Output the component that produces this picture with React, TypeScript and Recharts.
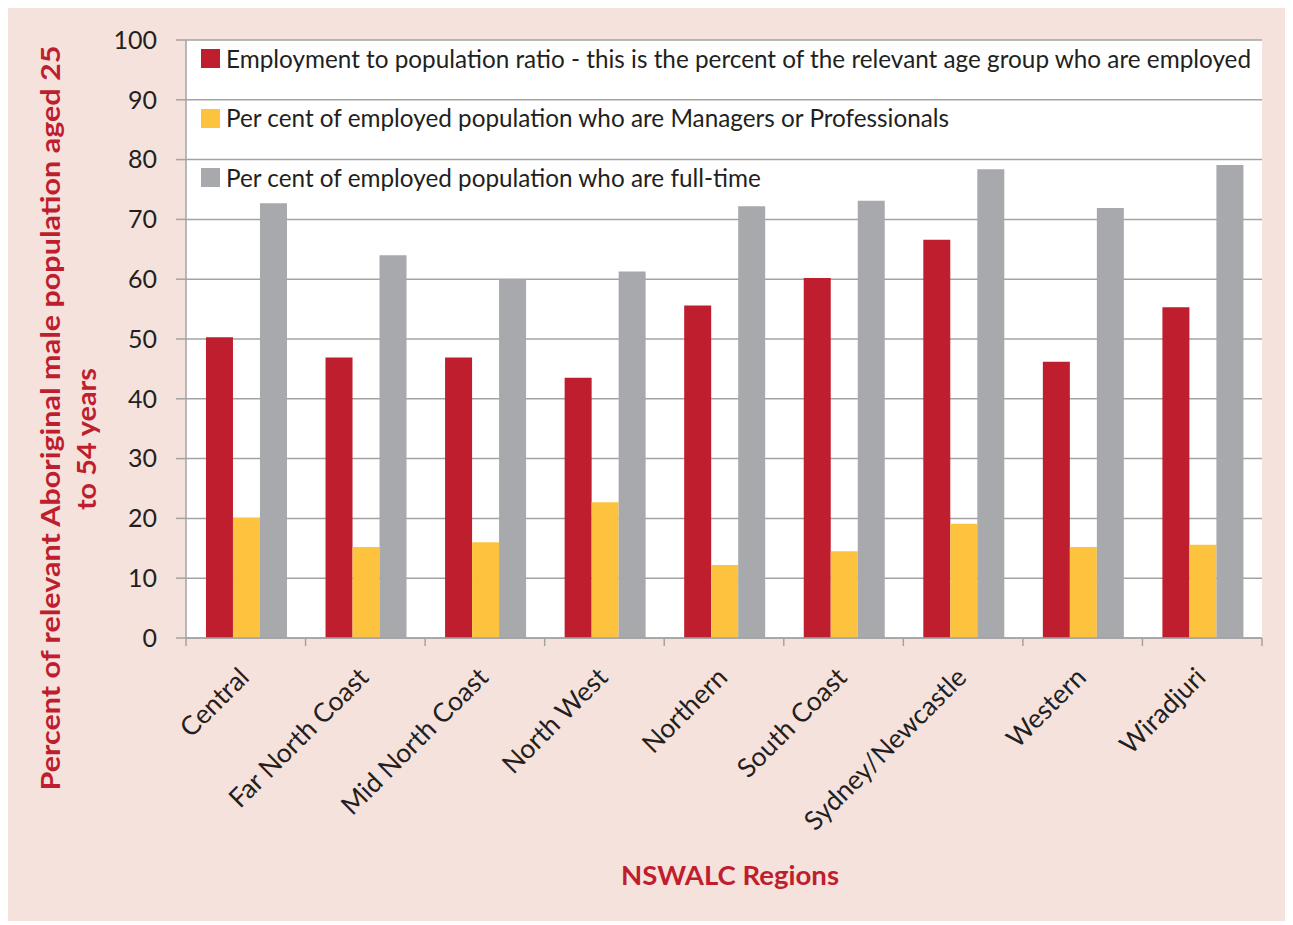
import React from 'react';
import { BarChart, Bar, XAxis, YAxis, CartesianGrid, Legend } from 'recharts';

const regions = [
  'Central',
  'Far North Coast',
  'Mid North Coast',
  'North West',
  'Northern',
  'South Coast',
  'Sydney/Newcastle',
  'Western',
  'Wiradjuri',
];
const employmentRatio = [50.3, 46.9, 46.9, 43.5, 55.6, 60.2, 66.6, 46.2, 55.3];
const managersProfessionals = [20.1, 15.2, 16.0, 22.7, 12.2, 14.5, 19.1, 15.2, 15.6];
const fullTime = [72.7, 64.0, 60.0, 61.3, 72.2, 73.1, 78.4, 71.9, 79.1];
const yTicks = [0, 10, 20, 30, 40, 50, 60, 70, 80, 90, 100];
const seriesNames = [
  'Employment to population ratio - this is the percent of the relevant age group who are employed',
  'Per cent of employed population who are Managers or Professionals',
  'Per cent of employed population who are full-time',
];
const yTitleLines = ['Percent of relevant Aboriginal male population aged 25', 'to 54 years'];
const xTitle = 'NSWALC Regions';

const RED = '#be1e2d';
const YELLOW = '#fdc33f';
const GRAY = '#a7a9ac';
const GRID = '#a3a3a3';
const PINK = '#f6e2dc';
const TEXT = '#231f20';
const FONT = 'Lato, "Open Sans", sans-serif';

const data = regions.map((region, i) => ({
  region,
  employment: employmentRatio[i],
  managers: managersProfessionals[i],
  fullTime: fullTime[i],
}));

const RegionTick = (props: any) => {
  const { x, y, payload, index, width } = props;
  const half = payload && typeof payload.offset === 'number' && payload.offset > 0
    ? payload.offset
    : width / regions.length / 2;
  return (
    <g>
      <line x1={x - half} x2={x - half} y1={y} y2={y + 8} stroke={GRID} strokeWidth={1.5} />
      {index === regions.length - 1 && (
        <line x1={x + half} x2={x + half} y1={y} y2={y + 8} stroke={GRID} strokeWidth={1.5} />
      )}
      <text
        transform={`translate(${x + 5}, ${y + 41}) rotate(-45)`}
        textAnchor="end"
        fontSize={26.5}
        fill={TEXT}
        fontFamily={FONT}
      >
        {payload.value}
      </text>
    </g>
  );
};

const YTitle = () => (
  <g fontFamily={FONT} fontWeight={700} fill={RED} fontSize={27}>
    <text
      transform="translate(51.5, 410) rotate(-90)"
      textAnchor="middle"
      textLength={745}
      lengthAdjust="spacingAndGlyphs"
    >
      {yTitleLines[0]}
    </text>
    <text
      transform="translate(88, 431) rotate(-90)"
      textAnchor="middle"
      textLength={142}
      lengthAdjust="spacingAndGlyphs"
    >
      {yTitleLines[1]}
    </text>
  </g>
);

const XTitle = () => (
  <text
    x={722}
    y={877}
    textAnchor="middle"
    fontFamily={FONT}
    fontWeight={700}
    fill={RED}
    fontSize={26}
    textLength={218}
    lengthAdjust="spacingAndGlyphs"
  >
    {xTitle}
  </text>
);

const LegendContent = (props: any) => {
  const payload = props.payload || [];
  return (
    <div style={{ fontFamily: FONT, fontSize: 24.3, color: TEXT, lineHeight: 1 }}>
      {payload.map((entry: any, i: number) => (
        <div
          key={i}
          style={{ display: 'flex', alignItems: 'center', height: 59.5, whiteSpace: 'nowrap' }}
        >
          <span
            style={{
              display: 'inline-block',
              width: 19,
              height: 19,
              background: entry.color,
              marginRight: 6,
              flex: 'none',
            }}
          />
          <span>{entry.value}</span>
        </div>
      ))}
    </div>
  );
};

export default function App() {
  return (
    <div style={{ width: 1277, height: 913, background: PINK, position: 'relative' }}>
      <BarChart
        width={1277}
        height={913}
        data={data}
        margin={{ top: 32, right: 23, left: 0, bottom: 0 }}
        barCategoryGap="16.7%"
        barGap={0}
      >
        <CartesianGrid vertical={false} stroke={GRID} strokeWidth={1.5} fill="#ffffff" fillOpacity={1} />
        <XAxis
          dataKey="region"
          height={283}
          interval={0}
          tickLine={false}
          tickSize={0}
          tickMargin={0}
          axisLine={{ stroke: GRID, strokeWidth: 1.5 }}
          tick={<RegionTick />}
          label={<XTitle />}
        />
        <YAxis
          width={178}
          domain={[0, 100]}
          ticks={yTicks}
          interval={0}
          tickSize={10}
          tickMargin={19}
          tickLine={{ stroke: GRID, strokeWidth: 1.5 }}
          axisLine={{ stroke: GRID, strokeWidth: 1.5 }}
          tick={{ fill: TEXT, fontSize: 25, fontFamily: FONT }}
          label={<YTitle />}
        />
        <Legend
          layout="vertical"
          align="center"
          verticalAlign="middle"
          content={<LegendContent />}
          wrapperStyle={{ left: 193, top: 21, width: 'auto', height: 'auto' }}
        />
        <Bar dataKey="employment" name={seriesNames[0]} fill={RED} isAnimationActive={false} />
        <Bar dataKey="managers" name={seriesNames[1]} fill={YELLOW} isAnimationActive={false} />
        <Bar dataKey="fullTime" name={seriesNames[2]} fill={GRAY} isAnimationActive={false} />
      </BarChart>
    </div>
  );
}
